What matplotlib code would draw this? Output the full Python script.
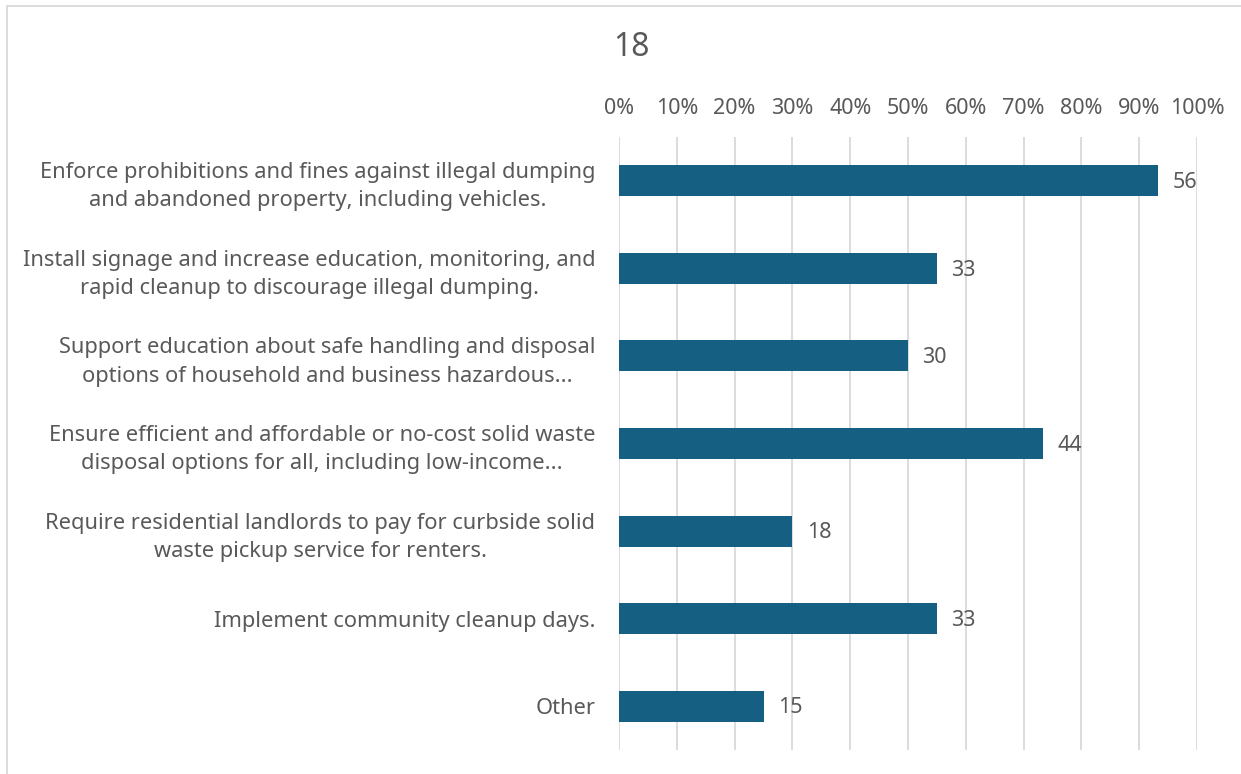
#!/usr/bin/env python3
"""
Horizontal bar chart - question 18 responses
"""

import matplotlib.pyplot as plt
from matplotlib.patches import Rectangle
from matplotlib.ticker import PercentFormatter

# Data
categories = [
    'Enforce prohibitions and fines against illegal dumping\nand abandoned property, including vehicles.',
    'Install signage and increase education, monitoring, and\nrapid cleanup to discourage illegal dumping.',
    'Support education about safe handling and disposal\noptions of household and business hazardous...',
    'Ensure efficient and affordable or no-cost solid waste\ndisposal options for all, including low-income...',
    'Require residential landlords to pay for curbside solid\nwaste pickup service for renters.',
    'Implement community cleanup days.',
    'Other',
]
counts = [56, 33, 30, 44, 18, 33, 15]
percents = [93.3, 55.0, 50.0, 73.3, 30.0, 55.0, 25.0]
title = '18'


def make_chart():
    plt.rcParams['font.family'] = ['Noto Sans', 'DejaVu Sans']
    text_color = '#595959'
    bar_color = '#156082'
    grid_color = '#D9D9D9'

    fig = plt.figure(figsize=(12.41, 7.74), dpi=100)
    ax = fig.add_axes([619 / 1241, 1 - 750 / 774, 578 / 1241, 613 / 774])

    ypos = list(range(len(categories)))
    ax.barh(ypos, percents, height=0.355, color=bar_color, zorder=3)

    for y, p, c in zip(ypos, percents, counts):
        ax.text(p + 2.5, y + 0.02, str(c), va='center', ha='left', fontsize=15.5, color=text_color)

    ax.set_xlim(0, 100)
    ax.set_ylim(len(categories) - 0.5, -0.5)
    ax.set_xticks(range(0, 101, 10))
    ax.xaxis.set_major_formatter(PercentFormatter(decimals=0))
    ax.xaxis.tick_top()
    ax.tick_params(axis='x', length=0, pad=13, labelsize=15.5, labelcolor=text_color)
    ax.set_yticks(ypos)
    ax.set_yticklabels(categories, fontsize=15.7, color=text_color, linespacing=1.45)
    ax.tick_params(axis='y', length=0, pad=17)
    for lbl in ax.get_yticklabels():
        lbl.set_horizontalalignment('right')
        lbl.set_multialignment('center')

    ax.grid(axis='x', color=grid_color, linewidth=1.3, zorder=0)
    for s in ax.spines.values():
        s.set_visible(False)

    fig.text(631 / 1241, 1 - 48 / 774, title, ha='center', va='center',
             fontsize=23, color=text_color)

    # outer chart border
    fig.patches.append(Rectangle((7 / 1241, -0.01), 1.1, 1 - 6 / 774 + 0.01,
                                 transform=fig.transFigure, fill=False,
                                 edgecolor='#D9D9D9', linewidth=1.3))

    fig.savefig('out.png', dpi=100, facecolor='white')


if __name__ == "__main__":
    make_chart()
